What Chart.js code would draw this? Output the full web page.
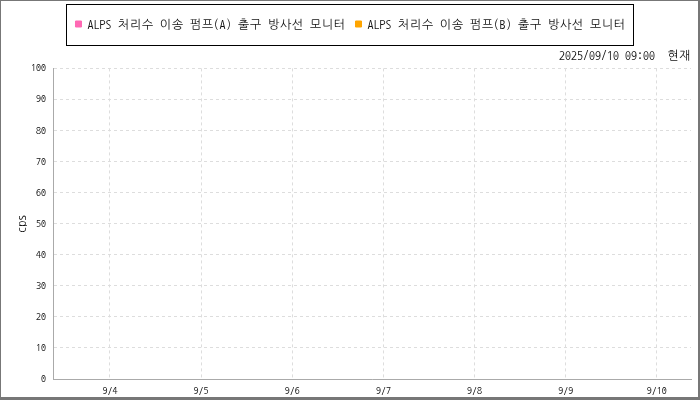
<!DOCTYPE html>
<html><head><meta charset="utf-8">
<script src="https://cdn.jsdelivr.net/npm/chart.js@4"></script>
<style>
html,body{margin:0;padding:0;background:#fff;}
#wrap{position:absolute;left:0;top:0;width:700px;height:400px;box-sizing:border-box;border-style:solid;border-color:#777;border-width:1px 2px 3px 1px;}
canvas{display:block;}
</style></head><body>
<div id="wrap"><canvas id="c" width="697" height="396" style="width:697px;height:396px"></canvas></div>
<script>
const FONT = "NanumGothicCoding,'Noto Sans Mono CJK KR',monospace";

const seriesNames = ['ALPS 처리수 이송 펌프(A) 출구 방사선 모니터', 'ALPS 처리수 이송 펌프(B) 출구 방사선 모니터'];
const seriesColors = ['#ff69b4', '#ffa500'];
const seriesA = [];   // no readings shown in the period
const seriesB = [];
const rangeStart = '2025-09-03T09:00';
const rangeEnd = '2025-09-10T09:00';
const tickDates = ['2025-09-04T00:00','2025-09-05T00:00','2025-09-06T00:00','2025-09-07T00:00','2025-09-08T00:00','2025-09-09T00:00','2025-09-10T00:00'];
const tickLabels = ['9/4','9/5','9/6','9/7','9/8','9/9','9/10'];
const yTicks = [0,10,20,30,40,50,60,70,80,90,100];
const titleText = '2025/09/10 09:00  현재';
const yTitle = 'cps';

const hrs = d => (Date.parse(d) - Date.parse(rangeStart)) / 3600000;

const legendBox = {
  id: 'legendBox',
  afterDraw(chart) {
    const hb = chart.legend && chart.legend.legendHitBoxes;
    if (!hb || !hb.length) return;
    const ctx = chart.ctx;
    const l = Math.min(...hb.map(h => h.left));
    const r = Math.max(...hb.map(h => h.left + h.width));
    const cy = hb[0].top + hb[0].height / 2;
    ctx.save();
    ctx.strokeStyle = '#000';
    ctx.lineWidth = 1;
    ctx.strokeRect(Math.round(l - 9) + 0.5, Math.round(cy - 20.5) + 0.5, Math.round(r - l + 17), 41);
    ctx.restore();
  }
};

new Chart(document.getElementById('c'), {
  type: 'line',
  data: {
    datasets: [
      { label: seriesNames[0], data: seriesA, borderColor: seriesColors[0], backgroundColor: seriesColors[0], pointRadius: 2, borderWidth: 1 },
      { label: seriesNames[1], data: seriesB, borderColor: seriesColors[1], backgroundColor: seriesColors[1], pointRadius: 2, borderWidth: 1 }
    ]
  },
  plugins: [legendBox],
  options: {
    responsive: false,
    animation: false,
    layout: { padding: { left: 9, right: 7, top: 7, bottom: 0 } },
    plugins: {
      legend: {
        position: 'top',
        labels: { boxWidth: 6, boxHeight: 6, padding: 10, color: '#111', font: { family: FONT, size: 12 } }
      },
      title: {
        display: true, text: titleText, align: 'end', weight: 500, color: '#111',
        font: { family: FONT, size: 12, weight: 'normal' },
        padding: { top: 8, bottom: 6 }
      },
      tooltip: { enabled: false }
    },
    scales: {
      x: {
        type: 'linear',
        min: hrs(rangeStart), max: hrs(rangeEnd),
        afterBuildTicks(scale) { scale.ticks = tickDates.map(d => ({ value: hrs(d) })); },
        afterFit(scale) { scale.height = 18; },
        ticks: {
          autoSkip: false, maxRotation: 0, padding: 6, color: '#111',
          font: { family: FONT, size: 10 },
          callback(v, i) { return tickLabels[i]; }
        },
        grid: { color: '#dddddd', drawTicks: false },
        border: { color: '#aaa', dash: [3, 3] }
      },
      y: {
        min: 0, max: 100,
        afterBuildTicks(scale) { scale.ticks = yTicks.map(v => ({ value: v })); },
        afterFit(scale) { scale.width = 43; },
        ticks: { padding: 7, color: '#111', font: { family: FONT, size: 10 } },
        grid: { color: '#dddddd', drawTicks: false },
        border: { color: '#aaa', dash: [3, 3] },
        title: { display: true, text: yTitle, color: '#111', padding: { top: 4, bottom: 3 }, font: { family: FONT, size: 12 } }
      }
    }
  }
});
</script>
</body></html>
